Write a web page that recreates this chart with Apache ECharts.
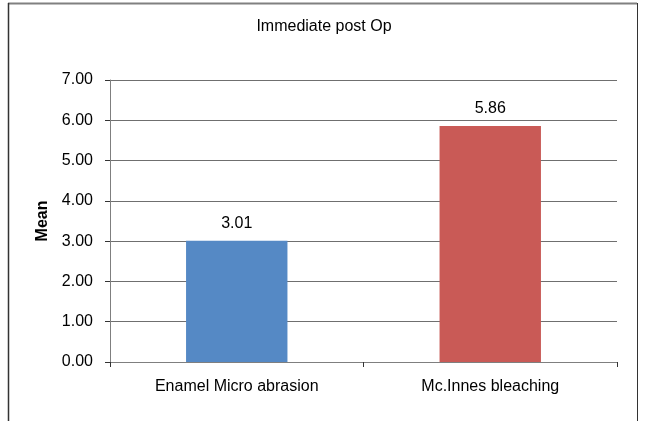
<!DOCTYPE html>
<html>
<head>
<meta charset="utf-8">
<script src="https://cdn.jsdelivr.net/npm/echarts@6/dist/echarts.min.js"></script>
<style>html,body{margin:0;padding:0;background:#fff}#c{width:648px;height:421px}</style>
</head>
<body>
<div id="c"></div>
<script>
const categories = ["Enamel Micro abrasion", "Mc.Innes bleaching"];
const values = [3.01, 5.86];
const barColors = ["#5589C5", "#C95A56"];
const titleText = "Immediate post Op";
const yAxisName = "Mean";

const chart = echarts.init(document.getElementById('c'), null, {renderer: 'canvas'});
const font = 'Arial, "Liberation Sans", sans-serif';
chart.setOption({
  animation: false,
  backgroundColor: '#fff',
  textStyle: {fontFamily: font},
  title: {text: titleText, left: 'center', top: 14, textStyle: {fontSize: 16, fontWeight: 'normal', color: '#000', fontFamily: font}},
  grid: {left: 110, right: 31, top: 80, bottom: 59},
  xAxis: {
    type: 'category', data: categories,
    axisLine: {lineStyle: {color: '#7f7f7f', width: 1}},
    axisTick: {show: true, length: 5, lineStyle: {color: '#333'}, alignWithLabel: false},
    axisLabel: {fontSize: 16, color: '#000', margin: 17, fontFamily: font}
  },
  yAxis: {
    type: 'value', min: 0, max: 7, interval: 1,
    name: yAxisName, nameLocation: 'middle', nameGap: 56,
    nameTextStyle: {fontSize: 16, fontWeight: 'bold', color: '#000', fontFamily: font},
    axisLine: {show: true, lineStyle: {color: '#7f7f7f'}},
    axisTick: {show: true, length: 5, lineStyle: {color: '#333'}},
    axisLabel: {fontSize: 16, color: '#000', margin: 17, formatter: v => v.toFixed(2), fontFamily: font},
    splitLine: {show: true, lineStyle: {color: '#6f6f6f', width: 1}}
  },
  series: [{
    type: 'bar', barWidth: '40%',
    data: values.map((v, i) => ({value: v, itemStyle: {color: barColors[i]}})),
    label: {show: true, position: 'top', distance: 9, fontSize: 16, color: '#000', formatter: p => p.value.toFixed(2), fontFamily: font}
  }],
  graphic: [
    {type: 'line', shape: {x1: 8, y1: 3.5, x2: 637, y2: 3.5}, style: {stroke: '#808080', lineWidth: 2}},
    {type: 'line', shape: {x1: 8.5, y1: 3, x2: 8.5, y2: 421}, style: {stroke: '#333', lineWidth: 1.5}},
    {type: 'line', shape: {x1: 637.5, y1: 3, x2: 637.5, y2: 421}, style: {stroke: '#333', lineWidth: 1}}
  ]
});
</script>
</body>
</html>
